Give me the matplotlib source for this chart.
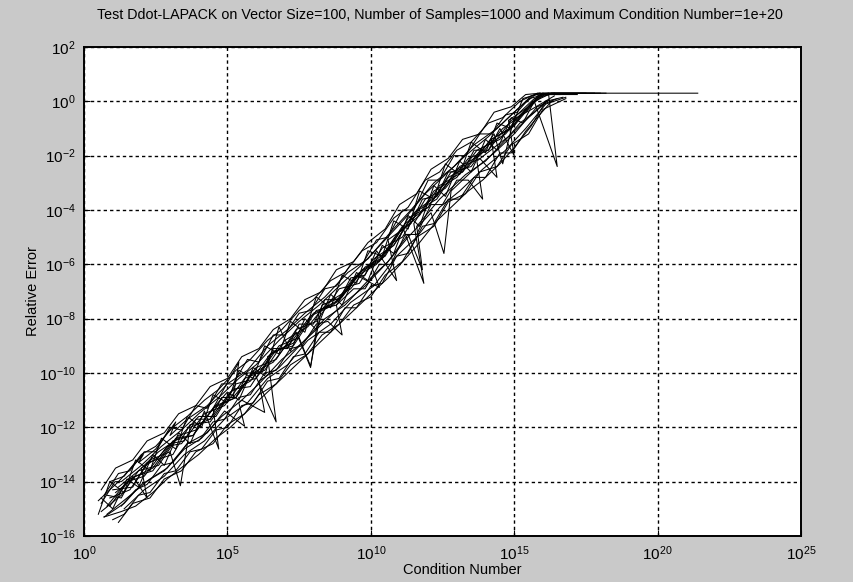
import matplotlib
matplotlib.use("Agg")
import matplotlib.pyplot as plt
import numpy as np

# log10(condition number) / log10(relative error)
log_cond_1 = [0.8, 1.5, 2.1, 2.9, 3.4, 4.2, 4.9, 5.6, 6.3, 7.0, 7.8, 8.5, 9.3, 10.1, 10.8, 11.6, 12.3, 13.1, 13.8, 14.6, 15.4, 16.0, 21.4]
log_err_1 = [-14.9, -14.0, -13.8, -12.7, -12.6, -11.5, -11.2, -10.2, -9.9, -8.8, -8.3, -7.4, -6.9, -5.8, -5.3, -4.0, -3.5, -2.4, -2.0, -1.0, -0.4, 0.3, 0.3]

log_cond_2 = [0.6, 1.3, 1.9, 2.6, 3.3, 3.9, 4.6, 5.3, 5.9, 6.7, 6.4, 7.2, 7.9, 8.7, 9.4, 10.2, 10.9, 11.7, 12.4, 13.2, 13.9, 14.7, 15.5, 16.1, 17.0]
log_err_2 = [-15.1, -14.5, -13.6, -13.4, -12.3, -12.1, -11.2, -10.9, -9.9, -11.8, -9.4, -8.9, -7.9, -7.5, -6.5, -6.0, -4.9, -4.2, -3.1, -2.6, -1.7, -1.2, -0.2, 0.28, 0.28]

log_cond_3 = [0.9, 1.6, 2.3, 3.0, 3.36, 3.7, 4.4, 5.1, 5.8, 6.5, 7.3, 8.0, 8.8, 9.6, 10.3, 11.1, 11.85, 11.5, 12.2, 13.0, 13.7, 14.5, 15.2, 15.9, 16.6]
log_err_3 = [-14.6, -14.3, -13.2, -12.9, -14.15, -12.0, -11.7, -10.7, -10.3, -9.3, -8.9, -7.8, -7.4, -6.3, -5.9, -4.6, -6.7, -4.5, -3.3, -2.8, -1.8, -1.4, -0.5, 0.25, 0.25]

log_cond_4 = [1.1, 1.8, 2.4, 3.2, 3.8, 4.5, 5.4, 5.2, 5.9, 6.6, 7.4, 7.9, 8.2, 8.9, 9.7, 10.4, 11.2, 12.0, 12.7, 13.4, 14.2, 14.9, 15.6, 16.3, 18.0]
log_err_4 = [-14.4, -13.8, -13.6, -12.4, -12.3, -11.3, -9.6, -10.9, -10.0, -9.6, -8.5, -9.8, -7.7, -7.3, -6.2, -5.8, -4.5, -3.9, -2.8, -2.4, -1.4, -1.0, -0.05, 0.3, 0.3]

log_cond_5 = [0.7, 1.4, 2.0, 2.8, 3.5, 4.1, 4.8, 5.5, 6.3, 6.1, 6.8, 7.6, 8.3, 9.1, 9.8, 10.6, 11.3, 12.1, 12.55, 12.8, 13.5, 14.3, 15.0, 15.8, 16.5]
log_err_5 = [-15.3, -14.8, -14.1, -13.6, -12.8, -12.4, -11.6, -11.0, -11.45, -10.3, -9.8, -8.9, -8.2, -7.4, -6.8, -5.9, -5.0, -4.1, -5.6, -3.3, -2.6, -1.9, -1.2, -0.2, 0.1]

log_cond_6 = [0.5, 1.2, 2.07, 1.9, 2.5, 3.2, 3.0, 3.6, 4.3, 5.0, 5.7, 6.4, 7.1, 7.7, 8.4, 9.2, 9.9, 10.7, 11.4, 12.2, 12.9, 13.6, 14.4, 15.1, 15.8, 17.5]
log_err_6 = [-14.7, -14.0, -13.0, -13.3, -12.8, -11.8, -12.3, -11.7, -11.2, -10.4, -9.9, -9.0, -8.4, -7.8, -7.2, -6.3, -5.8, -4.8, -4.0, -3.0, -2.4, -1.6, -1.0, -0.3, 0.3, 0.3]

log_cond_7 = [1.0, 1.7, 2.2, 3.1, 3.7, 4.4, 5.2, 5.8, 6.6, 7.3, 8.1, 8.8, 9.5, 10.3, 10.0, 10.8, 11.5, 12.3, 13.0, 13.8, 14.4, 14.2, 15.0, 15.7, 16.5, 16.2, 17.2]
log_err_7 = [-14.3, -14.2, -13.3, -13.0, -11.9, -11.8, -10.6, -10.5, -9.2, -9.0, -7.7, -7.5, -6.4, -6.85, -6.0, -5.3, -4.1, -3.6, -2.5, -2.1, -2.8, -1.4, -0.9, 0.0, -2.4, 0.25, 0.25]

log_cond_8 = [0.8, 1.5, 2.3, 2.9, 3.6, 4.3, 4.9, 5.6, 5.4, 6.1, 6.9, 7.6, 8.4, 9.1, 9.9, 10.6, 11.3, 11.8, 11.6, 12.4, 13.3, 14.0, 14.8, 15.5, 16.2]
log_err_8 = [-15.2, -14.6, -13.9, -13.5, -12.6, -12.2, -11.4, -11.96, -11.1, -10.4, -9.5, -8.9, -8.0, -7.5, -6.6, -5.9, -4.9, -6.2, -4.6, -3.6, -2.7, -2.2, -1.3, -0.6, 0.05]

log_cond_9 = [0.6, 1.08, 1.3, 2.0, 2.7, 3.4, 4.0, 4.7, 5.4, 6.0, 6.8, 7.5, 8.2, 9.0, 9.7, 10.5, 11.2, 11.9, 12.6, 13.3, 14.1, 14.8, 15.5, 16.3, 18.2]
log_err_9 = [-14.8, -14.0, -14.0, -13.4, -12.7, -12.1, -11.5, -10.9, -10.2, -9.7, -8.8, -8.1, -7.5, -6.7, -6.0, -5.1, -4.3, -3.4, -2.7, -2.0, -1.3, -0.6, 0.1, 0.3, 0.3]

log_cond_10 = [0.9, 1.6, 2.4, 3.1, 3.8, 4.5, 5.3, 6.0, 6.7, 7.4, 8.1, 8.9, 9.6, 10.4, 11.1, 11.9, 12.6, 13.4, 14.1, 14.9, 15.6, 16.4]
log_err_10 = [-14.9, -13.9, -13.5, -12.5, -12.3, -11.3, -10.9, -9.8, -9.5, -8.4, -8.1, -6.9, -6.7, -5.4, -5.0, -3.6, -3.2, -2.1, -1.8, -0.7, -0.3, 0.2]

log_cond_11 = [1.2, 1.9, 2.6, 3.3, 4.0, 4.6, 5.3, 6.0, 6.8, 7.5, 7.9, 8.3, 9.0, 9.8, 10.5, 11.3, 12.0, 12.8, 13.5, 14.3, 14.6, 15.0, 15.7, 16.4]
log_err_11 = [-14.2, -13.6, -12.9, -12.4, -11.6, -11.6, -10.4, -10.2, -9.0, -8.7, -9.75, -7.5, -7.2, -6.1, -5.7, -4.3, -3.9, -2.6, -2.4, -1.2, -2.3, -0.6, 0.1, 0.3]

log_cond_12 = [1.4, 2.1, 2.8, 3.5, 4.2, 4.9, 5.7, 6.4, 7.1, 7.8, 8.6, 9.3, 10.1, 10.9, 11.6, 12.4, 13.1, 13.9, 14.7, 15.4, 16.1, 16.8]
log_err_12 = [-15.0, -14.3, -13.8, -13.0, -12.5, -11.7, -11.1, -10.2, -9.7, -8.8, -8.2, -7.4, -6.8, -5.7, -5.0, -3.9, -3.3, -2.5, -1.8, -1.0, -0.1, 0.15]

log_cond_13 = [0.7, 1.2, 1.6, 2.1, 2.5, 3.0, 3.4, 3.9, 4.3, 4.8, 5.2, 5.7, 6.1, 6.6, 7.0, 7.5, 7.9, 8.4, 8.8, 9.3, 9.7, 10.2, 10.6, 11.1, 11.5, 12.0, 12.4, 12.9, 13.3, 13.8, 14.2, 14.7, 15.1, 15.6, 16.0]
log_err_13 = [-14.5, -13.7, -13.6, -12.9, -12.9, -12.0, -12.1, -11.2, -11.3, -10.4, -10.4, -9.5, -9.6, -8.6, -8.6, -7.8, -7.7, -6.9, -6.8, -6.0, -6.0, -5.1, -5.0, -4.0, -4.0, -2.9, -2.9, -2.0, -2.0, -1.2, -1.2, -0.5, -0.4, 0.2, 0.3]

log_cond_14 = [1.0, 1.4, 1.9, 2.3, 2.8, 3.2, 3.7, 4.1, 4.6, 5.0, 5.5, 5.9, 6.4, 6.8, 7.3, 7.7, 8.2, 8.6, 9.1, 9.5, 10.0, 10.4, 10.9, 11.3, 11.8, 12.2, 12.7, 13.1, 13.6, 14.0, 14.5, 14.9, 15.4, 15.8, 16.3]
log_err_14 = [-15.4, -15.2, -14.5, -14.4, -13.7, -13.6, -12.9, -12.8, -12.1, -12.0, -11.2, -11.1, -10.3, -10.2, -9.4, -9.3, -8.5, -8.5, -7.6, -7.6, -6.8, -6.7, -5.7, -5.6, -4.6, -4.5, -3.6, -3.6, -2.8, -2.8, -1.9, -1.9, -1.1, -0.6, 0.0]

log_cond_15 = [0.6, 1.0, 1.5, 1.9, 2.4, 2.8, 3.3, 3.7, 4.2, 4.7, 4.5, 5.0, 5.4, 5.9, 6.3, 6.8, 7.2, 7.7, 8.1, 8.6, 9.0, 9.5, 9.9, 10.4, 10.8, 11.3, 11.7, 12.2, 12.6, 13.1, 13.5, 14.0, 14.4, 14.9, 15.3, 15.8, 16.2]
log_err_15 = [-14.6, -15.0, -13.9, -14.2, -13.0, -13.4, -12.2, -12.6, -11.4, -12.8, -11.3, -10.7, -11.0, -9.8, -10.1, -8.3, -9.2, -8.0, -8.4, -7.1, -7.5, -6.3, -6.6, -5.3, -5.6, -4.2, -4.6, -3.1, -3.5, -2.2, -2.6, -1.4, -1.8, -0.6, -0.8, 0.2, 0.3]

log_cond_16 = [1.3, 1.8, 2.2, 2.7, 3.1, 3.6, 4.0, 4.5, 4.9, 5.4, 5.8, 6.3, 6.7, 7.2, 7.6, 8.1, 8.5, 9.0, 8.8, 9.4, 9.8, 10.3, 10.7, 11.2, 11.6, 12.1, 12.5, 13.0, 13.4, 13.9, 13.7, 14.3, 14.8, 15.2, 15.7, 16.1, 16.7]
log_err_16 = [-14.9, -14.3, -14.1, -13.4, -13.3, -12.6, -12.5, -11.8, -11.7, -10.9, -10.8, -10.0, -9.9, -9.1, -9.0, -8.2, -8.1, -8.6, -7.5, -6.9, -6.9, -6.0, -6.0, -4.9, -4.9, -3.8, -3.8, -2.9, -2.9, -3.6, -2.2, -1.7, -1.3, -0.8, -0.4, 0.0, 0.15]

log_cond_17 = [0.5, 0.9, 1.4, 1.8, 2.3, 2.7, 3.2, 3.6, 4.1, 4.5, 5.0, 5.4, 5.9, 6.3, 6.8, 7.2, 7.7, 8.1, 8.6, 9.0, 9.5, 9.9, 10.4, 10.8, 11.3, 11.7, 12.2, 12.6, 13.1, 13.5, 14.0, 14.4, 14.9, 15.3, 15.9]
log_err_17 = [-15.2, -14.0, -14.4, -13.2, -13.6, -12.4, -12.8, -11.6, -12.0, -10.8, -11.1, -9.9, -10.2, -9.0, -9.3, -8.1, -8.5, -7.2, -7.6, -6.4, -6.7, -5.5, -5.7, -4.4, -4.7, -3.3, -3.6, -2.3, -2.7, -1.5, -1.9, -0.8, -1.0, 0.1, 0.3]

log_cond_18 = [0.8, 1.3, 1.7, 2.2, 2.0, 2.6, 3.0, 3.5, 3.9, 4.4, 4.8, 5.3, 5.7, 6.2, 6.6, 7.1, 7.5, 8.0, 8.4, 8.9, 9.3, 9.8, 10.2, 10.9, 10.6, 11.4, 11.8, 12.3, 12.7, 13.2, 13.6, 14.1, 14.5, 15.0, 14.8, 15.5, 16.0, 16.6]
log_err_18 = [-14.5, -14.6, -13.8, -14.6, -13.5, -13.1, -12.6, -12.5, -11.7, -11.7, -10.9, -10.9, -10.0, -10.0, -9.1, -9.1, -8.2, -8.2, -7.3, -7.3, -6.5, -6.4, -5.5, -6.6, -5.1, -4.5, -3.6, -3.5, -2.6, -2.6, -1.8, -1.8, -1.0, -2.0, -0.7, -0.2, 0.28, 0.28]

log_cond_19 = [0.6, 1.1, 1.7, 2.2, 2.8, 3.3, 3.9, 4.4, 5.0, 5.5, 6.1, 6.6, 7.2, 7.7, 8.3, 8.8, 9.4, 9.9, 10.5, 11.0, 11.6, 12.1, 12.7, 13.2, 13.8, 14.3, 14.9, 15.4, 15.9]
log_err_19 = [-14.3, -13.5, -13.2, -12.5, -12.2, -11.5, -11.2, -10.5, -10.2, -9.4, -9.1, -8.4, -8.0, -7.3, -7.0, -6.2, -5.9, -5.2, -4.7, -3.8, -3.4, -2.5, -2.1, -1.4, -1.2, -0.4, -0.2, 0.25, 0.3]

log_cond_20 = [1.2, 1.7, 2.3, 2.8, 3.4, 3.9, 4.5, 5.0, 5.6, 6.1, 6.7, 7.2, 7.8, 8.3, 8.9, 9.4, 10.0, 10.5, 11.1, 11.6, 12.2, 12.7, 13.3, 13.8, 14.4, 14.9, 15.5, 16.0, 16.8]
log_err_20 = [-15.5, -14.8, -14.6, -13.9, -13.6, -12.9, -12.6, -11.9, -11.5, -10.8, -10.4, -9.7, -9.3, -8.6, -8.2, -7.5, -7.2, -6.4, -5.9, -5.0, -4.6, -3.7, -3.4, -2.6, -2.4, -1.6, -1.2, -0.3, 0.1]

log_cond_21 = [0.9, 1.4, 2.0, 2.5, 3.1, 3.6, 4.2, 4.7, 5.3, 5.8, 6.4, 6.9, 7.5, 8.0, 8.6, 9.1, 9.7, 10.2, 10.8, 11.3, 11.9, 12.4, 13.0, 13.5, 14.1, 14.6, 15.2, 15.7, 16.2, 17.8]
log_err_21 = [-14.0, -13.8, -13.0, -12.7, -12.0, -11.6, -11.0, -10.6, -9.9, -9.5, -8.8, -8.4, -7.7, -7.3, -6.6, -6.3, -5.5, -5.2, -4.3, -3.9, -2.9, -2.6, -1.8, -1.5, -0.8, -0.6, 0.0, 0.25, 0.3, 0.3]

log_cond_22 = [0.7, 1.3, 1.8, 2.4, 2.9, 3.5, 4.0, 4.6, 5.1, 5.7, 6.2, 6.8, 7.3, 7.9, 8.4, 9.0, 9.5, 10.1, 10.6, 11.2, 11.7, 12.3, 12.8, 13.4, 13.9, 14.5, 15.0, 15.6, 16.1]
log_err_22 = [-15.3, -15.1, -14.9, -14.4, -13.9, -13.4, -13.0, -12.4, -12.0, -11.4, -10.9, -10.3, -9.8, -9.2, -8.7, -8.1, -7.6, -7.0, -6.5, -5.8, -5.2, -4.4, -3.9, -3.3, -2.9, -2.3, -1.7, -0.9, 0.0]

series = [
    (log_cond_1, log_err_1), (log_cond_2, log_err_2), (log_cond_3, log_err_3),
    (log_cond_4, log_err_4), (log_cond_5, log_err_5), (log_cond_6, log_err_6),
    (log_cond_7, log_err_7), (log_cond_8, log_err_8), (log_cond_9, log_err_9),
    (log_cond_10, log_err_10), (log_cond_11, log_err_11), (log_cond_12, log_err_12),
    (log_cond_13, log_err_13), (log_cond_14, log_err_14), (log_cond_15, log_err_15),
    (log_cond_16, log_err_16), (log_cond_17, log_err_17), (log_cond_18, log_err_18),
    (log_cond_19, log_err_19), (log_cond_20, log_err_20), (log_cond_21, log_err_21),
    (log_cond_22, log_err_22),
]

x_ticks = [1e0, 1e5, 1e10, 1e15, 1e20, 1e25]
y_ticks = [1e-16, 1e-14, 1e-12, 1e-10, 1e-8, 1e-6, 1e-4, 1e-2, 1e0, 1e2]

plt.rcParams["font.family"] = ["Liberation Sans", "DejaVu Sans"]

fig = plt.figure(figsize=(8.54, 5.82), dpi=100, facecolor="#c9c9c9")
ax = fig.add_axes([84 / 854, 1 - 536 / 582, (801 - 84) / 854, (536 - 47) / 582])
ax.set_facecolor("white")

for log_cond, log_err in series:
    ax.plot(np.power(10.0, log_cond), np.power(10.0, log_err), color="black", lw=0.75)

ax.set_xscale("log")
ax.set_yscale("log")
ax.set_xlim(1e0, 1e25)
ax.set_ylim(1e-16, 1e2)
ax.set_xticks(x_ticks)
ax.set_yticks(y_ticks)
ax.minorticks_off()
ax.tick_params(direction="in", length=4, labelsize=11, colors="black", pad=6)
ax.grid(True, color="black", linestyle=(0, (2.4, 2.2)), linewidth=1.0)
for spine in ax.spines.values():
    spine.set_linewidth(1.4)

fig.text(440 / 854, 1 - 15 / 582, "Test Ddot-LAPACK on Vector Size=100, Number of Samples=1000 and Maximum Condition Number=1e+20",
         ha="center", va="center", fontsize=10.3)
ax.set_xlabel("Condition Number", fontsize=10.5)
ax.xaxis.set_label_coords((462 - 84) / (801 - 84), -0.055)
ax.set_ylabel("Relative Error", fontsize=10.5)
ax.yaxis.set_label_coords(-0.062, 0.5)

fig.savefig("out.png", dpi=100, facecolor=fig.get_facecolor())
